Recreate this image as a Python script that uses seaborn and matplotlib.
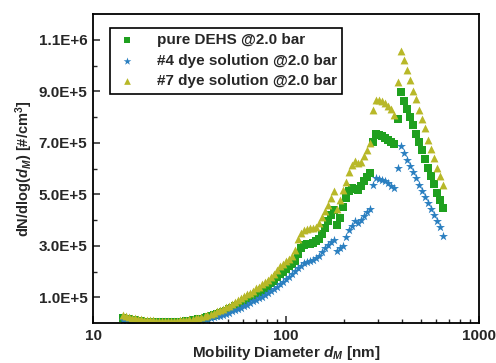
import numpy as np
import pandas as pd
import matplotlib
matplotlib.use("Agg")
import matplotlib.pyplot as plt
import matplotlib.ticker as mticker
import seaborn as sns

# Mobility diameter bins [nm]
d_nm = [14.3, 14.9, 15.4, 16.0, 16.5, 17.2, 17.8, 18.4, 19.1, 19.8,
        20.5, 21.3, 22.1, 22.9, 23.7, 24.6, 25.5, 26.4, 27.4, 28.4,
        29.4, 30.5, 31.6, 32.8, 34.0, 35.2, 36.5, 37.9, 39.2, 40.7,
        42.2, 43.7, 45.3, 47.0, 48.7, 50.5, 52.3, 54.2, 56.2, 58.3,
        60.4, 62.6, 64.9, 67.3, 69.8, 72.3, 75.0, 77.7, 80.6, 83.5,
        86.6, 89.8, 93.1, 96.5, 100.0, 103.7, 107.5, 111.4, 115.5, 119.7,
        124.1, 128.6, 133.4, 138.2, 143.3, 148.6, 154.0, 159.6, 165.5, 171.5,
        177.8, 184.3, 191.1, 198.1, 205.4, 212.9, 220.7, 228.8, 237.1, 245.8,
        254.8, 264.2, 273.8, 283.9, 294.3, 305.1, 316.2, 327.8, 339.8, 352.3,
        365.2, 378.6, 392.4, 406.8, 421.7, 437.1, 453.2, 469.8, 487.0, 504.8,
        523.3, 542.5, 562.3, 582.9, 604.3, 626.4, 649.4]

# dN/dlog(dM) in thousands of #/cm3
pure_dehs_k = [18, 16, 14, 12, 10, 8, 7, 6, 5, 4,
               4, 3, 3, 3, 3, 3, 3, 4, 4, 5,
               6, 7, 9, 10, 12, 14, 17, 20, 23, 26,
               30, 34, 39, 43, 48, 54, 60, 66, 72, 79,
               86, 93, 100, 106, 113, 120, 128, 136, 145, 155,
               165, 178, 190, 200, 210, 220, 230, 242,
               268, 290, 302, 306, 309, 312, 318, 328, 345, 370, 395, 420, 440,
               380, 410, 450, 485, 512, 525, 520, 518, 532, 550, 568, 582,
               705, 733, 732, 727, 720, 711, 702, 694,
               793, 897, 863, 833, 800, 769, 736, 703, 671, 636, 603, 571, 539, 507, 478, 446]

dye4_k = [12, 10, 8, 6, 5, 4, 3, 2, 2, 1,
          1, 1, 1, 1, 1, 1, 1, 1, 2, 2,
          3, 4, 5, 6, 8, 10, 12, 14, 17, 20,
          23, 26, 29, 32, 36, 40, 45, 50, 55, 60,
          66, 72, 78, 84, 90, 96, 103, 110, 118, 126,
          134, 142, 152, 160, 170, 180, 190, 203,
          212, 222, 232, 238, 240, 245, 252, 262, 275, 290, 302, 315, 322,
          280, 290, 300, 335, 362, 378, 395, 390, 402, 415, 430, 445,
          535, 562, 560, 555, 550, 543, 534, 524,
          603, 687, 660, 635, 610, 587, 562, 538, 514, 490, 466, 442, 418, 395, 372, 340]

dye7_k = [30, 27, 24, 21, 19, 17, 15, 13, 12, 11,
          10, 9, 9, 8, 8, 8, 8, 8, 9, 10,
          11, 12, 14, 16, 18, 21, 24, 27, 31, 35,
          40, 45, 50, 55, 61, 67, 74, 81, 88, 96,
          104, 111, 118, 126, 135, 142, 150, 159, 168, 178,
          190, 205, 220, 230, 240, 250, 260, 282,
          325, 350, 362, 366, 368, 370, 375, 390, 412, 435, 460, 487, 512,
          445, 480, 515, 548, 585, 615, 630, 622, 625, 648, 672, 700,
          828, 866, 866, 862, 855, 845, 830, 808,
          937, 1055, 1020, 984, 943, 903, 871, 827, 791, 756, 713, 677, 640, 604, 571, 536]

series_names = ["pure DEHS @2.0 bar", "#4 dye solution @2.0 bar", "#7 dye solution @2.0 bar"]
y_ticks = [1e5, 3e5, 5e5, 7e5, 9e5, 1.1e6]
x_ticks = [10, 100, 1000]
x_tick_labels = ["10", "100", "1000"]

sns.set_style("ticks")
plt.rcParams['font.family'] = ['Liberation Sans', 'DejaVu Sans']
plt.rcParams['font.weight'] = 'bold'
plt.rcParams['axes.labelweight'] = 'bold'
plt.rcParams['mathtext.fontset'] = 'custom'
plt.rcParams['mathtext.rm'] = 'Liberation Sans:bold'
plt.rcParams['mathtext.bf'] = 'Liberation Sans:bold'
plt.rcParams['mathtext.it'] = 'Liberation Sans:italic:bold'

frames = []
for name, vals in zip(series_names, [pure_dehs_k, dye4_k, dye7_k]):
    frames.append(pd.DataFrame({"d": d_nm, "v": np.array(vals) * 1e3, "series": name}))
df = pd.concat(frames, ignore_index=True)

palette = {series_names[0]: "#1fa01f", series_names[1]: "#2a7fc0", series_names[2]: "#b8b828"}
markers = {series_names[0]: "s", series_names[1]: "*", series_names[2]: "^"}
sizes = {series_names[0]: 26, series_names[1]: 46, series_names[2]: 32}

fig = plt.figure(figsize=(4.96, 3.63), dpi=100)
ax = fig.add_axes([0.1875, 0.110, 0.778, 0.851])

for name in series_names:
    sub = df[df["series"] == name]
    sns.scatterplot(data=sub, x="d", y="v", ax=ax, color=palette[name], marker=markers[name],
                    s=sizes[name], linewidth=0, label=name)

ax.set_xscale("log")
ax.set_xlim(10, 1000)
ax.set_ylim(0, 1.2e6)
ax.set_xticks(x_ticks)
ax.set_xticklabels(x_tick_labels)
ax.xaxis.set_minor_locator(mticker.LogLocator(base=10, subs=np.arange(2, 10)))
ax.xaxis.set_minor_formatter(mticker.NullFormatter())
ax.set_yticks(y_ticks)
ax.set_yticklabels([f"{v/10**int(np.floor(np.log10(v))):.1f}E+{int(np.floor(np.log10(v)))}" for v in y_ticks])
ax.yaxis.set_minor_locator(mticker.FixedLocator([2e5, 4e5, 6e5, 8e5, 1e6]))

ax.tick_params(axis="both", which="major", direction="in", length=5, width=1.1, labelsize=11, pad=4)
ax.tick_params(axis="both", which="minor", direction="in", length=3, width=1.0)
for sp in ax.spines.values():
    sp.set_visible(True)
    sp.set_linewidth(1.3)
    sp.set_color("black")

ax.set_xlabel(r"Mobility Diameter $d_M$ [nm]", fontsize=11, labelpad=1)
ax.set_ylabel(r"dN/dlog($d_M$) [#/cm$^3$]", fontsize=10.5, labelpad=3)

leg = ax.legend(loc="upper left", bbox_to_anchor=(0.044, 0.955), borderaxespad=0,
                frameon=True, fancybox=False,
                edgecolor="black", fontsize=11, labelspacing=0.42, handletextpad=1.2,
                borderpad=0.35, handlelength=1.5, markerscale=0.85)
leg.get_frame().set_linewidth(1.2)
leg.get_frame().set_alpha(1)
for t in leg.get_texts():
    t.set_fontweight("bold")

fig.savefig("out.png", dpi=100)
